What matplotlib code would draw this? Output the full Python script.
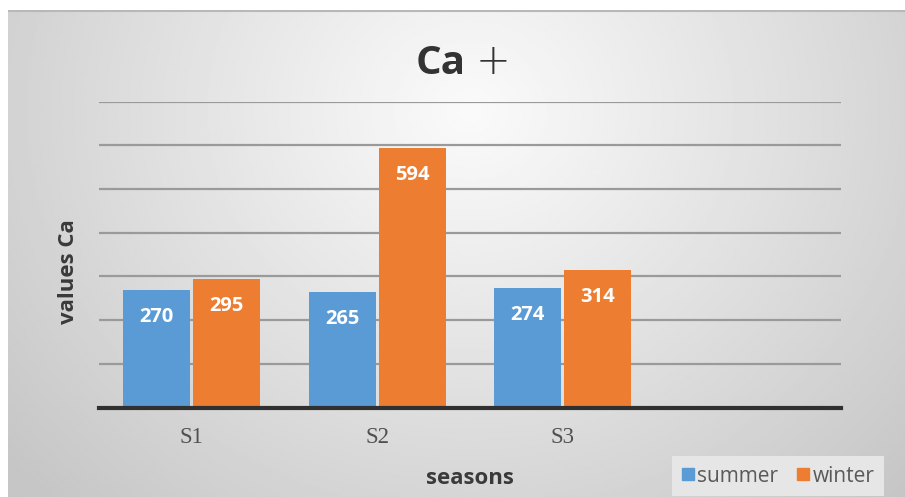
import numpy as np
import matplotlib
matplotlib.use("Agg")
import matplotlib.pyplot as plt
from matplotlib.lines import Line2D

# Data
categories = ["S1", "S2", "S3", ""]
summer = [270, 265, 274]
winter = [295, 594, 314]
series_names = ["summer", "winter"]
yticks = [0, 100, 200, 300, 400, 500, 600, 700]

BLUE = "#5B9BD5"
ORANGE = "#ED7D31"
W, H = 905, 497

fig = plt.figure(figsize=(W / 100, H / 100), dpi=100)
fig.patch.set_facecolor("white")

def fx(px):
    return px / W

def fy(py):
    return 1 - py / H

# Radial gray gradient behind the chart
bg = fig.add_axes([fx(8), 0, 1 - fx(8), 1 - 10 / H], zorder=0)
gx, gy = np.meshgrid(np.linspace(8, W, 400), np.linspace(10, H, 220))
d = np.hypot(gx - 470, (gy - 110) * 1.1) / 600
shade = np.clip(250 - 52 * d ** 1.05, 198, 250) / 255
bg.imshow(shade, cmap="gray", vmin=0, vmax=1, aspect="auto",
          extent=[0, 1, 0, 1], interpolation="bilinear")
bg.plot([0, 1], [0.998, 0.998], color="#b8b8b8", lw=1.5, transform=bg.transAxes)
bg.set_axis_off()

# Plot area
left, right, top, bottom = 99, 841, 101.7, 407.5
ax = fig.add_axes([fx(left), fy(bottom), fx(right) - fx(left), (bottom - top) / H], zorder=1)
ax.set_facecolor("none")
x = np.arange(len(categories))
bw = 0.361
off = 0.189
ax.bar(x[:3] - off, summer, width=bw, color=BLUE, zorder=3)
ax.bar(x[:3] + off, winter, width=bw, color=ORANGE, zorder=3)

for xs, vals in ((x[:3] - off, summer), (x[:3] + off, winter)):
    for xi, v in zip(xs, vals):
        ax.annotate(str(v), xy=(xi, v), xytext=(0, -27), textcoords="offset pixels",
                    ha="center", va="center", color="white", fontsize=14.5,
                    fontweight="bold", family="Open Sans", zorder=4)

ax.set_xlim(-0.5, len(categories) - 0.5)
ax.set_ylim(0, 700)
ax.set_yticks(yticks)
ax.yaxis.grid(True, color="#9a9a9a", lw=1.6, zorder=1)
ax.tick_params(axis="y", length=0, labelleft=False)
ax.set_xticks(x[:3])
ax.set_xticklabels(categories[:3], family="Liberation Serif", fontsize=16.5, color="#505050")
ax.tick_params(axis="x", length=0, pad=14)
for s in ("top", "right", "left"):
    ax.spines[s].set_visible(False)
ax.spines["bottom"].set_color("#303030")
ax.spines["bottom"].set_linewidth(3)
ax.spines["bottom"].set_zorder(5)

# Titles and axis names
fig.text(fx(466), fy(63), "Ca", ha="right", va="center", fontsize=29,
         fontweight="bold", family="Open Sans", color="#333333")
fig.text(fx(476), fy(61), "+", ha="left", va="center", fontsize=30,
         fontweight="light", family="DejaVu Sans", color="#333333")
fig.text(fx(68), fy(272), "values Ca", rotation=90, ha="center", va="center",
         fontsize=16, fontweight="bold", family="Open Sans", color="#3a3a3a")
fig.text(fx(470), fy(479), "seasons", ha="center", va="center",
         fontsize=16, fontweight="bold", family="Open Sans", color="#3a3a3a")

# Legend
handles = [Line2D([], [], marker="s", ls="none", color=BLUE, markersize=8),
           Line2D([], [], marker="s", ls="none", color=ORANGE, markersize=8)]
leg = fig.legend(handles, series_names, loc="center", bbox_to_anchor=(fx(778), fy(476)),
                 ncol=2, frameon=True, facecolor="#e6e6e6", edgecolor="none",
                 fancybox=False, framealpha=1, handlelength=0.6, handletextpad=0.15,
                 columnspacing=0.9, borderpad=0.45,
                 prop={"family": "Open Sans", "size": 15})
for t in leg.get_texts():
    t.set_color("#595959")

fig.savefig("out.png", dpi=100)
